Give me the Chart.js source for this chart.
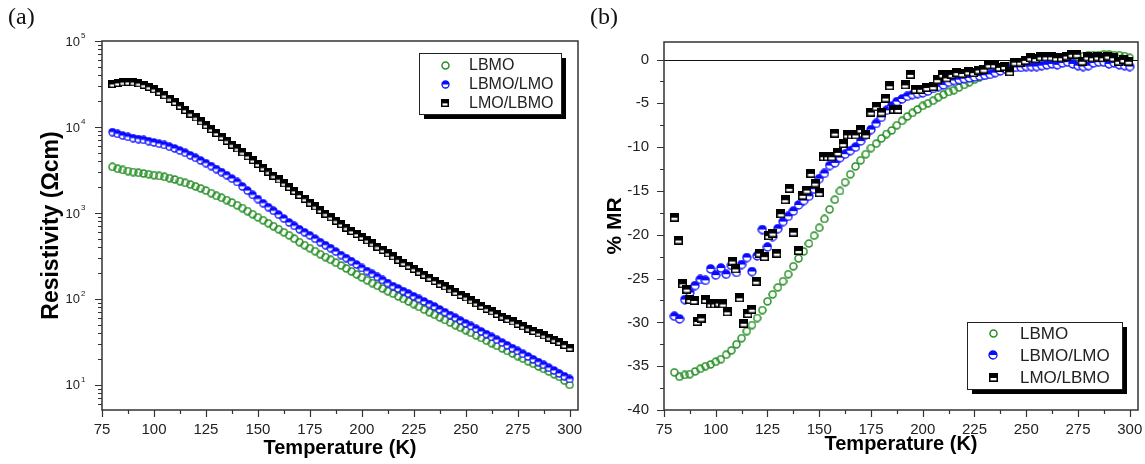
<!DOCTYPE html>
<html>
<head>
<meta charset="utf-8">
<script src="https://cdn.jsdelivr.net/npm/chart.js@4.4.1/dist/chart.umd.min.js"></script>
<style>
  body { margin: 0; background: #fff; width: 1145px; height: 464px; overflow: hidden; position: relative; }
  .panel { position: absolute; top: 0; height: 464px; }
  #wa { left: 0; width: 590px; }
  #wb { left: 590px; width: 555px; }
  .tag { position: absolute; top: 3px; font: 24px "Liberation Serif", "Times New Roman", serif; color: #111; }
</style>
</head>
<body>
<div class="panel" id="wa"><canvas id="chartA"></canvas></div>
<div class="panel" id="wb"><canvas id="chartB"></canvas></div>
<div class="tag" style="left:8px">(a)</div>
<div class="tag" style="left:590px">(b)</div>
<script>
// temperature grid (K) shared by the resistivity curves and two MR curves
const temps = [
  80, 82.5, 85, 87.5, 90, 92.5, 95, 97.5, 100, 102.5,
  105, 107.5, 110, 112.5, 115, 117.5, 120, 122.5, 125, 127.5,
  130, 132.5, 135, 137.5, 140, 142.5, 145, 147.5, 150, 152.5,
  155, 157.5, 160, 162.5, 165, 167.5, 170, 172.5, 175, 177.5,
  180, 182.5, 185, 187.5, 190, 192.5, 195, 197.5, 200, 202.5,
  205, 207.5, 210, 212.5, 215, 217.5, 220, 222.5, 225, 227.5,
  230, 232.5, 235, 237.5, 240, 242.5, 245, 247.5, 250, 252.5,
  255, 257.5, 260, 262.5, 265, 267.5, 270, 272.5, 275, 277.5,
  280, 282.5, 285, 287.5, 290, 292.5, 295, 297.5, 300
];

// (a) resistivity, Ohm cm
const rhoLBMO = [
  3430, 3270, 3160, 3070, 2990, 2930, 2880, 2820, 2750, 2690,
  2630, 2540, 2450, 2340, 2240, 2140, 2040, 1930, 1820, 1700,
  1580, 1500, 1410, 1320, 1230, 1140, 1050, 966, 891, 822,
  759, 700, 646, 596, 550, 501, 457, 422, 389, 359,
  331, 307, 285, 264, 245, 226, 209, 193, 178, 165,
  153, 142, 132, 123, 115, 107, 100, 93.3, 87.1, 80.7,
  75.0, 70.0, 65.3, 61.0, 56.9, 53.1, 49.5, 46.2, 43.2, 40.3,
  37.6, 35.1, 32.7, 30.5, 28.5, 26.6, 24.8, 23.2, 21.6, 20.2,
  18.8, 17.6, 16.4, 15.3, 14.3, 13.3, 12.4, 11.2, 10.0
];
const rhoLBMOLMO = [
  8710, 8320, 7940, 7670, 7410, 7240, 7080, 6840, 6610, 6380,
  6170, 5890, 5620, 5310, 5010, 4680, 4370, 4070, 3800, 3510,
  3240, 2990, 2750, 2510, 2290, 2040, 1820, 1620, 1450, 1300,
  1170, 1060, 955, 861, 776, 708, 646, 596, 550, 501,
  457, 422, 389, 355, 324, 299, 275, 251, 229, 211,
  195, 180, 166, 153, 141, 132, 123, 115, 107, 100,
  93.3, 87.1, 81.3, 75.3, 70.0, 64.9, 60.3, 55.8, 51.9, 48.4,
  44.9, 41.7, 38.9, 36.1, 33.5, 31.0, 28.8, 26.7, 24.8, 23.0,
  21.4, 19.8, 18.4, 17.1, 15.8, 14.7, 13.6, 12.6, 11.7
];
const rhoLMOLBMO = [
  31600, 32500, 33100, 33300, 33100, 32200, 30900, 29300, 27500, 25500,
  23400, 21400, 19500, 17600, 15800, 14300, 12900, 11600, 10500, 9440,
  8510, 7670, 6920, 6240, 5620, 5070, 4570, 4120, 3720, 3350,
  3020, 2720, 2450, 2210, 2000, 1800, 1620, 1460, 1320, 1190,
  1080, 982, 891, 813, 741, 676, 617, 569, 525, 481,
  442, 405, 372, 340, 313, 286, 263, 243, 224, 207,
  191, 176, 162, 150, 140, 129, 120, 111, 104, 96,
  89, 82.6, 76.7, 71.6, 66.8, 62.4, 58.2, 54.6, 51.3, 48.1,
  45.2, 42.4, 39.8, 37.6, 35.5, 33.5, 31.6, 29.2, 26.9
];

// (b) magnetoresistance, %
const mrLBMO = [
  -35.7, -36.2, -36.0, -35.9, -35.6, -35.3, -35.0, -34.8, -34.5, -34.2,
  -33.7, -33.2, -32.5, -31.8, -31.0, -30.3, -29.5, -28.6, -27.6, -26.8,
  -26.0, -25.3, -24.5, -23.6, -22.7, -21.9, -21.0, -20.1, -19.2, -18.2,
  -17.1, -16.0, -15.0, -14.0, -13.1, -12.2, -11.5, -10.8, -10.1, -9.6,
  -9.0, -8.5, -8.1, -7.5, -7.0, -6.5, -6.1, -5.7, -5.3, -5.0,
  -4.7, -4.3, -4.0, -3.7, -3.5, -3.2, -2.9, -2.6, -2.3, -2.0,
  -1.8, -1.5, -1.3, -1.1, -0.9, -0.7, -0.5, -0.4, -0.3, -0.2,
  -0.1, 0.0, 0.0, 0.1, 0.2, 0.2, 0.3, 0.3, 0.3, 0.4,
  0.5, 0.5, 0.5, 0.6, 0.6, 0.5, 0.5, 0.4, 0.2
];
const mrLBMOLMO = [
  -29.3, -29.6, -27.4, -26.6, -25.8, -25.1, -25.2, -23.9, -24.6, -23.8,
  -24.5, -23.5, -24.3, -23.4, -22.6, -24.2, -22.4, -19.4, -21.4, -20.2,
  -19.3, -18.5, -17.9, -17.3, -16.6, -16.1, -15.6, -14.8, -13.6, -13.0,
  -12.1, -11.8, -11.2, -10.8, -10.4, -10.0, -9.3, -8.6, -8.0, -7.3,
  -6.6, -5.8, -5.3, -4.8, -4.5, -4.2, -4.0, -3.9, -3.8, -3.6,
  -3.3, -3.1, -2.9, -2.6, -2.4, -2.3, -2.2, -2.1, -2.0, -1.9,
  -1.8, -1.7, -1.5, -1.3, -1.1, -1.0, -0.9, -0.9, -0.8, -0.8,
  -0.8, -0.7, -0.6, -0.5, -0.6, -0.4, -0.3, -0.5, -0.7, -0.8,
  -0.7, -0.4, -0.3, -0.3, -0.5, -0.4, -0.6, -0.7, -0.8
];
// LMO/LBMO MR is scattered, so it keeps its own temperatures
const tempsMrLMOLBMO = [
  80, 82, 84, 86, 87.5, 89.5, 91, 93, 95, 97.5,
  99.5, 101.5, 103.5, 105.5, 108, 109.5, 111.5, 113.5, 115.5, 117.5,
  119.5, 121, 123.5, 125.5, 127.5, 129.5, 131.5, 133.5, 135.5, 137.5,
  140, 142, 144, 146, 148, 150, 152, 154, 156, 157.5,
  159, 161.5, 163.5, 165.5, 167.5, 170, 172.5, 175, 177.5, 180,
  182, 184, 186, 188, 191.5, 194, 196.5, 199, 202, 205,
  207, 209.5, 211.5, 214, 216.5, 219, 222, 224.5, 227, 229.5,
  232, 234.5, 237, 239.5, 242, 244.5, 247, 249.5, 252, 254.5,
  257, 259.5, 262, 264.5, 267, 269.5, 272, 274.5, 277, 279.5,
  282, 284.5, 287, 289.5, 292, 294.5, 297, 299.5
];
const mrLMOLBMO = [
  -18.0, -20.6, -25.6, -26.2, -27.4, -27.5, -29.9, -29.5, -27.4, -27.9,
  -27.9, -27.8, -27.9, -28.8, -23.0, -23.9, -27.2, -30.1, -29.0, -28.5,
  -25.3, -22.1, -22.5, -20.1, -19.8, -22.1, -17.6, -16.0, -14.7, -19.7,
  -21.8, -15.5, -14.9, -13.0, -14.1, -15.2, -11.1, -11.1, -11.1, -8.4,
  -10.6, -9.6, -8.6, -8.6, -8.6, -8.0, -8.6, -6.0, -5.4, -6.0,
  -4.4, -3.0, -5.7, -5.7, -2.9, -1.7, -3.4, -3.4, -3.2, -3.1,
  -2.3, -1.7, -2.1, -1.7, -1.5, -1.6, -1.4, -1.5, -1.2, -1.1,
  -0.6, -0.6, -0.9, -0.8, -1.4, -0.3, -0.3, -0.1, 0.2, 0.1,
  0.3, 0.3, 0.3, 0.2, 0.2, 0.4, 0.6, 0.6, -0.2, 0.3,
  0.2, 0.3, 0.2, 0.4, 0.2, -0.2, 0.0, -0.2
];

// axis ticks
const xMajorTicks = [75, 100, 125, 150, 175, 200, 225, 250, 275, 300];
const xMinorTicks = [87.5, 112.5, 137.5, 162.5, 187.5, 212.5, 237.5, 262.5, 287.5];
const rhoDecades = [10, 100, 1000, 10000, 100000];
const mrMajorTicks = [0, -5, -10, -15, -20, -25, -30, -35, -40];
const mrMinorTicks = [-2.5, -7.5, -12.5, -17.5, -22.5, -27.5, -32.5, -37.5];

const GREEN = "#268f26";
const BLUE = "#0a0aff";
const FONT = "'Liberation Sans', Arial, sans-serif";

Chart.defaults.font.family = FONT;
Chart.defaults.color = "#222";

function marker(kind, size) {
  const c = document.createElement("canvas");
  c.width = size;
  c.height = size;
  const g = c.getContext("2d");
  const m = size / 2;
  if (kind === "open") {
    g.strokeStyle = GREEN;
    g.lineWidth = 1.5;
    g.beginPath();
    g.arc(m, m, m - 1, 0, Math.PI * 2);
    g.stroke();
  } else if (kind === "half") {
    g.fillStyle = "#fff";
    g.beginPath();
    g.arc(m, m, m - 1, 0, Math.PI * 2);
    g.fill();
    g.fillStyle = BLUE;
    g.beginPath();
    g.arc(m, m, m - 1, Math.PI, Math.PI * 2);
    g.closePath();
    g.fill();
    g.strokeStyle = BLUE;
    g.lineWidth = 1.3;
    g.beginPath();
    g.arc(m, m, m - 1, 0, Math.PI * 2);
    g.stroke();
  } else {
    g.fillStyle = "#000";
    g.fillRect(0, 0, size, size);
    g.fillStyle = "#fff";
    g.fillRect(1.5, size * 0.55, size - 3, size * 0.27);
  }
  return c;
}

function pairs(xs, ys) {
  return xs.map((x, i) => ({ x: x, y: ys[i] }));
}

// frame, outward ticks, zero line, power labels and boxed legend
const decor = {
  id: "decor",
  beforeDatasetsDraw(chart, args, o) {
    if (!o.zeroLine) return;
    const { ctx, chartArea: a } = chart;
    const y = Math.round(chart.scales.y.getPixelForValue(0)) + 0.5;
    ctx.save();
    ctx.strokeStyle = "#111";
    ctx.lineWidth = 1;
    ctx.beginPath();
    ctx.moveTo(a.left - 7, y);
    ctx.lineTo(a.right, y);
    ctx.stroke();
    ctx.restore();
  },
  afterDraw(chart, args, o) {
    const { ctx, chartArea: a } = chart;
    const xs = chart.scales.x;
    const ys = chart.scales.y;
    ctx.save();
    ctx.strokeStyle = "#333";
    ctx.lineWidth = 1.5;
    ctx.strokeRect(a.left, a.top, a.right - a.left, a.bottom - a.top);

    ctx.lineWidth = 1.2;
    ctx.beginPath();
    const tickX = (v, len) => {
      const p = Math.round(xs.getPixelForValue(v)) + 0.5;
      ctx.moveTo(p, a.bottom);
      ctx.lineTo(p, a.bottom + len);
    };
    const tickY = (v, len) => {
      const p = Math.round(ys.getPixelForValue(v)) + 0.5;
      ctx.moveTo(a.left, p);
      ctx.lineTo(a.left - len, p);
    };
    o.xMajor.forEach((v) => tickX(v, 7));
    o.xMinor.forEach((v) => tickX(v, 4));
    o.yMajor.forEach((v) => tickY(v, 7));
    o.yMinor.forEach((v) => tickY(v, 4));
    ctx.stroke();

    if (o.powerLabels) {
      ctx.fillStyle = "#222";
      o.yMajor.forEach((v) => {
        const p = ys.getPixelForValue(v);
        ctx.font = "13px " + FONT;
        ctx.textAlign = "right";
        ctx.textBaseline = "middle";
        ctx.fillText("10", a.left - 22, p + 1);
        ctx.font = "8px " + FONT;
        ctx.textAlign = "left";
        ctx.fillText(String(Math.round(Math.log10(v))), a.left - 21, p - 5);
      });
    }

    const L = o.legend;
    ctx.fillStyle = "#000";
    ctx.fillRect(L.x + 5, L.y + 5, L.w, L.h);
    ctx.fillStyle = "#fff";
    ctx.fillRect(L.x, L.y, L.w, L.h);
    ctx.strokeStyle = "#222";
    ctx.lineWidth = 1;
    ctx.strokeRect(L.x + 0.5, L.y + 0.5, L.w, L.h);
    ctx.font = L.font + "px " + FONT;
    ctx.textAlign = "left";
    ctx.textBaseline = "middle";
    ctx.fillStyle = "#222";
    L.order.forEach((di, i) => {
      const ds = chart.data.datasets[di];
      const img = ds.pointStyle;
      const cy = L.rows[i];
      ctx.drawImage(img, Math.round(L.mx - img.width / 2), Math.round(cy - img.height / 2));
      ctx.fillText(ds.label, L.tx, cy + 1);
    });
    ctx.restore();
  },
};

const rhoMinor = [];
rhoDecades.slice(0, -1).forEach((d) => {
  for (let k = 2; k <= 9; k++) rhoMinor.push(k * d);
});
rhoMinor.unshift(6, 7, 8, 9);

function xScale(height, titleSize) {
  return {
    type: "linear",
    min: 75,
    max: 304,
    afterBuildTicks: (s) => { s.ticks = xMajorTicks.map((v) => ({ value: v })); },
    afterFit: (s) => { s.height = height; s.paddingLeft = 0; s.paddingRight = 0; },
    grid: { display: false, drawTicks: false },
    border: { display: false },
    ticks: { padding: 11, autoSkip: false, maxRotation: 0, font: { size: 15 }, color: "#222", callback: (v) => String(v) },
    title: { display: true, text: "Temperature (K)", font: { size: titleSize, weight: "bold" }, color: "#000" },
  };
}

new Chart(document.getElementById("chartA"), {
  type: "scatter",
  data: {
    datasets: [
      { label: "LMO/LBMO", data: pairs(temps, rhoLMOLBMO), pointStyle: marker("square", 8), pointRadius: 4 },
      { label: "LBMO/LMO", data: pairs(temps, rhoLBMOLMO), pointStyle: marker("half", 9), pointRadius: 4 },
      { label: "LBMO", data: pairs(temps, rhoLBMO), pointStyle: marker("open", 9), pointRadius: 4 },
    ],
  },
  options: {
    responsive: true,
    maintainAspectRatio: false,
    animation: false,
    events: [],
    layout: { padding: { left: 34, top: 41, right: 12, bottom: 0 } },
    plugins: {
      legend: { display: false },
      tooltip: { enabled: false },
      decor: {
        xMajor: xMajorTicks,
        xMinor: xMinorTicks,
        yMajor: rhoDecades,
        yMinor: rhoMinor,
        powerLabels: true,
        legend: { x: 419, y: 53, w: 142, h: 61, mx: 445, tx: 469, rows: [65, 84, 103], font: 16, order: [2, 1, 0] },
      },
    },
    scales: {
      x: xScale(54, 20),
      y: {
        type: "logarithmic",
        min: 5.1,
        max: 100000,
        afterFit: (s) => { s.width = 68; },
        grid: { display: false, drawTicks: false },
        border: { display: false },
        ticks: { display: false },
        title: { display: true, text: "Resistivity (\u03A9cm)", font: { size: 23, weight: "bold" }, color: "#000" },
      },
    },
  },
  plugins: [decor],
});

new Chart(document.getElementById("chartB"), {
  type: "scatter",
  data: {
    datasets: [
      { label: "LMO/LBMO", data: pairs(tempsMrLMOLBMO, mrLMOLBMO), pointStyle: marker("square", 9), pointRadius: 4 },
      { label: "LBMO/LMO", data: pairs(temps, mrLBMOLMO), pointStyle: marker("half", 10), pointRadius: 4 },
      { label: "LBMO", data: pairs(temps, mrLBMO), pointStyle: marker("open", 9), pointRadius: 4 },
    ],
  },
  options: {
    responsive: true,
    maintainAspectRatio: false,
    animation: false,
    events: [],
    layout: { padding: { left: 9, top: 42, right: 7, bottom: 4 } },
    plugins: {
      legend: { display: false },
      tooltip: { enabled: false },
      decor: {
        xMajor: xMajorTicks,
        xMinor: xMinorTicks,
        yMajor: mrMajorTicks,
        yMinor: mrMinorTicks,
        zeroLine: true,
        legend: { x: 377, y: 322, w: 155, h: 67, mx: 403, tx: 430, rows: [333, 355, 377], font: 17, order: [2, 1, 0] },
      },
    },
    scales: {
      x: xScale(50, 20),
      y: {
        type: "linear",
        min: -40,
        max: 2,
        afterBuildTicks: (s) => { s.ticks = mrMajorTicks.map((v) => ({ value: v })); },
        afterFit: (s) => { s.width = 65; },
        grid: { display: false, drawTicks: false },
        border: { display: false },
        ticks: { padding: 15, font: { size: 15 }, color: "#222", callback: (v) => String(v) },
        title: { display: true, text: "% MR", font: { size: 21, weight: "bold" }, color: "#000" },
      },
    },
  },
  plugins: [decor],
});
</script>
</body>
</html>
